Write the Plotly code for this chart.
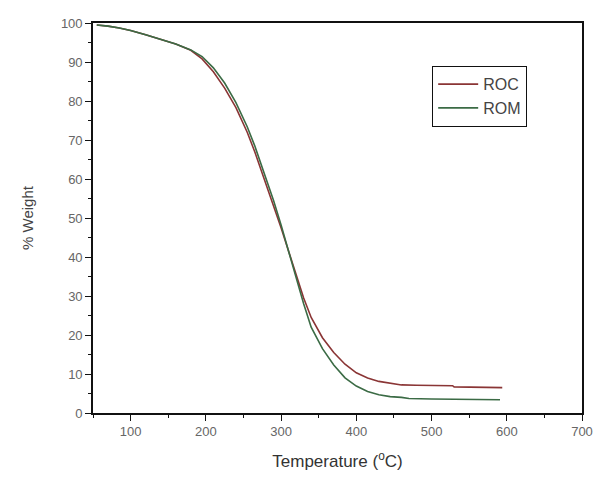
import plotly.graph_objects as go

temp_roc = [55, 70, 85, 100, 120, 140, 160, 180, 195, 210, 225, 240, 255, 265, 275, 290, 300,
            310, 320, 330, 340, 355, 370, 385, 400, 415, 430, 445, 460, 480, 500, 528, 530, 560, 594]
weight_roc = [99.5, 99.2, 98.7, 98.1, 97.0, 95.8, 94.6, 93.0, 90.8, 87.5, 83.3, 78.3, 72.0, 67.0,
              61.5, 53.5, 47.5, 41.5, 35.5, 29.5, 24.5, 19.3, 15.5, 12.5, 10.3, 9.0, 8.1, 7.6, 7.2,
              7.1, 7.0, 7.0, 6.7, 6.6, 6.5]

temp_rom = [55, 70, 85, 100, 120, 140, 160, 180, 195, 210, 225, 240, 255, 265, 275, 290, 300,
            310, 320, 330, 340, 355, 370, 385, 400, 415, 430, 445, 460, 470, 500, 560, 591]
weight_rom = [99.5, 99.2, 98.7, 98.1, 97.0, 95.8, 94.6, 93.1, 91.4, 88.5, 84.6, 79.6, 73.4, 68.5,
              63.0, 54.5, 48.2, 41.5, 34.5, 28.0, 22.0, 16.5, 12.3, 9.0, 6.9, 5.5, 4.7, 4.2, 4.0,
              3.7, 3.6, 3.5, 3.4]

series_names = ["ROC", "ROM"]
series_colors = ["#8a3535", "#3b6b45"]

FONT = "Liberation Sans, Arial, sans-serif"

fig = go.Figure()
fig.add_trace(go.Scatter(x=temp_roc, y=weight_roc, mode="lines", name=series_names[0],
                         line=dict(color=series_colors[0], width=1.6)))
fig.add_trace(go.Scatter(x=temp_rom, y=weight_rom, mode="lines", name=series_names[1],
                         line=dict(color=series_colors[1], width=1.6)))

axis_common = dict(showgrid=False, zeroline=False, showline=True, linecolor="#111", linewidth=1.6,
                   mirror=True, ticks="outside", ticklen=6, tickwidth=1.3, tickcolor="#111",
                   tickfont=dict(family=FONT, size=13, color="#666"))

fig.update_xaxes(range=[50, 700], tick0=100, dtick=100,
                 minor=dict(ticks="outside", ticklen=3, tickwidth=1.3, tickcolor="#111", dtick=50, tick0=50),
                 title=dict(text="Temperature (<sup>o</sup>C)", standoff=17,
                            font=dict(family=FONT, size=17, color="#333")),
                 **axis_common)
fig.update_yaxes(range=[0, 100], tick0=0, dtick=10,
                 minor=dict(ticks="outside", ticklen=3, tickwidth=1.3, tickcolor="#111", dtick=5, tick0=0),
                 title=dict(text="% Weight", standoff=24,
                            font=dict(family=FONT, size=15, color="#444")),
                 **axis_common)

fig.update_layout(
    template="none",
    width=595, height=477,
    margin=dict(l=93, r=13, t=23, b=64),
    paper_bgcolor="white", plot_bgcolor="white",
    showlegend=True,
    legend=dict(x=0.693, y=0.89, xanchor="left", yanchor="top",
                bordercolor="#111", borderwidth=1.3, bgcolor="white",
                font=dict(family=FONT, size=16, color="#444"),
                itemwidth=40, tracegroupgap=0),
)

fig.write_html("out.html", config={"displayModeBar": False},
               post_script="document.body.style.margin='0';document.body.style.overflow='hidden';")
